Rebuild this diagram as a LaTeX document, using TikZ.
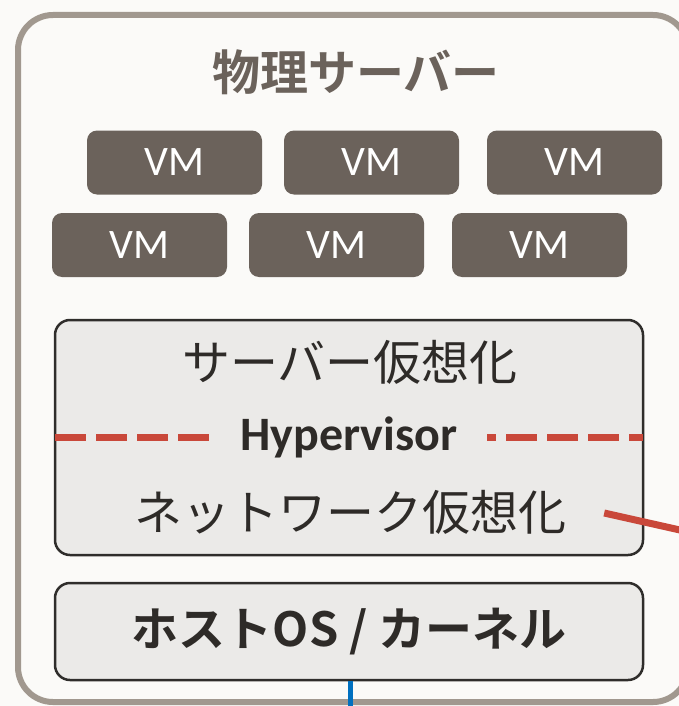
\documentclass[tikz,border=0pt]{standalone}
\usepackage{fontspec}
\setmainfont{Carlito}
\newfontfamily\cjk{Noto Sans CJK JP}
\newfontfamily\cjkbold{Noto Sans CJK JP Bold}
\usetikzlibrary{calc}
\definecolor{pagebg}{HTML}{FBFAF8}
\definecolor{outerline}{HTML}{A1988F}
\definecolor{vmfill}{HTML}{6B625B}
\definecolor{boxfill}{HTML}{EBEAE8}
\definecolor{boxline}{HTML}{2F2D2B}
\definecolor{inktext}{HTML}{2E2B28}
\definecolor{hvred}{HTML}{C9483A}
\definecolor{linkblue}{HTML}{0070C0}
\tikzset{
  outerbox/.style={draw=outerline, line width=6pt, fill=pagebg, rounded corners=35pt},
  titletext/.style={text=vmfill, font=\fontsize{48}{52}\selectfont\cjkbold, inner sep=0pt},
  vmbox/.style={fill=vmfill, text=white, rounded corners=10pt, minimum width=175pt,
    minimum height=64pt, inner sep=0pt, font=\fontsize{42}{44}\selectfont},
  layerbox/.style={fill=boxfill, draw=boxline, line width=2.5pt, rounded corners=15pt,
    minimum width=588pt, inner sep=0pt},
  layertext/.style={text=inktext, inner sep=0pt, font=\fontsize{48}{52}\selectfont\cjk},
  hvdash/.style={draw=hvred, line width=7pt, dash pattern=on 31pt off 10pt},
  hvlink/.style={draw=hvred, line width=7pt},
  netlink/.style={draw=linkblue, line width=5pt}
}
\begin{document}
\begin{tikzpicture}[x=1pt, y=-1pt]
\useasboundingbox (0,0) rectangle (679,706);
\fill[pagebg] (0,0) rectangle (679,706);
% physical server frame
\draw[outerbox] (18,15) rectangle (688,702);
\node[titletext] (title) at (356,72) {物理サーバー};
% virtual machines
\node[vmbox] (vm1) at (174.5,162.5) {VM};
\node[vmbox] (vm2) at (371.5,162.5) {VM};
\node[vmbox] (vm3) at (574.5,162.5) {VM};
\node[vmbox] (vm4) at (139.5,245) {VM};
\node[vmbox] (vm5) at (336.5,245) {VM};
\node[vmbox] (vm6) at (539.5,245) {VM};
% hypervisor layer
\node[layerbox, minimum height=235pt] (hv) at (349,437.5) {};
\node[layertext] (srvvirt) at (350,362) {サーバー仮想化};
\draw[hvdash] ([xshift=1.5pt]hv.west) -- ([xshift=-1.5pt]hv.east);
\node[fill=boxfill, minimum width=276pt, minimum height=40pt, inner sep=0pt,
  text=inktext, font=\fontsize{48}{50}\selectfont\bfseries] (hyp) at (349,437) {Hypervisor};
\node[layertext] (netvirt) at (350,512) {ネットワーク仮想化};
\coordinate (netout) at (720,539);
\draw[hvlink] ($(netvirt.east)+(38,1)$) -- (netout);
% host OS layer
\node[layerbox, minimum height=97pt] (host) at (349,631.5) {};
\node[text=inktext, inner sep=0pt, font=\fontsize{47}{50}\selectfont\cjkbold] (hosttext) at (host.center)
  {ホストOS / カーネル};
\coordinate (hostdown) at (350,712);
\draw[netlink] (host.south -| hostdown) -- (hostdown);
\end{tikzpicture}
\end{document}
